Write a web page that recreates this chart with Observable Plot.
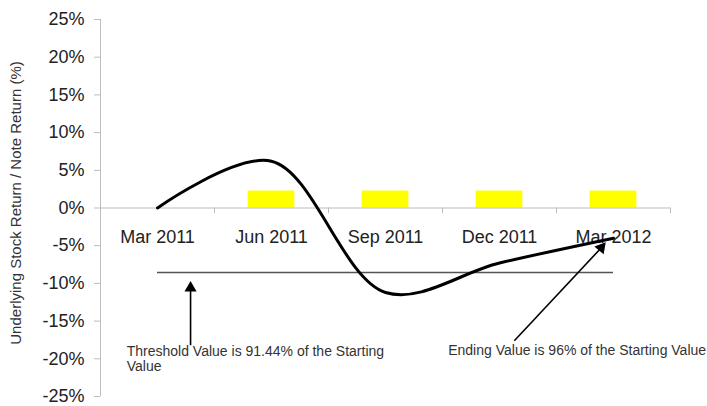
<!DOCTYPE html>
<html>
<head>
<meta charset="utf-8">
<script src="https://cdn.jsdelivr.net/npm/d3@7"></script>
<script src="https://cdn.jsdelivr.net/npm/@observablehq/plot@0.6"></script>
<style>
  html, body { margin: 0; padding: 0; background: #fff; }
  #chart { width: 707px; height: 406px; }
  svg { font-family: "Liberation Sans", Arial, sans-serif; }
</style>
</head>
<body>
<div id="chart"></div>
<script>
// ---- data ----
const categories = ["Mar 2011", "Jun 2011", "Sep 2011", "Dec 2011", "Mar 2012"];
const stockReturn = [0, 6.2, -11.2, -7.3, -4.0];          // underlying stock return (%)
const noteCoupon = [null, 2.25, 2.25, 2.25, 2.25];         // note coupon (%)
const threshold = -8.56;                                   // 91.44% of starting value
const yTicks = [25, 20, 15, 10, 5, 0, -5, -10, -15, -20, -25];
const yTitle = "Underlying Stock Return / Note Return (%)";
const thresholdNote = "Threshold Value is 91.44% of the Starting\nValue";
const endingNote = "Ending Value is 96% of the Starting Value";
// annotation anchors in data units (category index, %)
const thresholdArrow = {x1: 0.29, y1: -18.2, x2: 0.29, y2: -10.2};
const endingArrow = {x1: 3.13, y1: -17.6, x2: 3.91, y2: -5.0};
const thresholdTextPos = {x: -0.27, y: -19.2};
const endingTextPos = {x: 2.55, y: -19.2};

const table = categories.map((c, i) => ({i, cat: c, ret: stockReturn[i], coupon: noteCoupon[i]}));
const bars = table.filter(d => d.coupon != null);
const xDomain = [-0.5, categories.length - 0.5];
const boundaries = d3.range(categories.length + 1).map(k => k - 0.5);
const barHalf = 0.205;

const chart = Plot.plot({
  width: 707,
  height: 406,
  marginLeft: 100,
  marginRight: 37,
  marginTop: 19,
  marginBottom: 10,
  style: {fontFamily: "Liberation Sans, Arial, sans-serif", background: "#fff"},
  x: {type: "linear", domain: xDomain, axis: null},
  y: {domain: [-25, 25], axis: null},
  marks: [
    // y axis line and ticks
    Plot.ruleX([xDomain[0]], {stroke: "#bdbdbd", strokeWidth: 1}),
    Plot.axisY(yTicks, {anchor: "left", tickSize: 6, tickPadding: 10, tickFormat: d => d + "%",
      fontSize: 18, stroke: "#bdbdbd", fill: "#222", label: null}),
    // y title
    Plot.text([yTitle], {x: xDomain[0], y: 0, dy: -5, dx: -84, rotate: -90, text: d => d,
      fontSize: 15, fill: "#333"}),
    // coupon bars
    Plot.rectY(bars, {x1: d => d.i - barHalf, x2: d => d.i + barHalf, y1: 0, y2: "coupon", fill: "#ffff00"}),
    // zero line and category boundary ticks
    Plot.ruleY([0], {stroke: "#bdbdbd", strokeWidth: 1.2}),
    Plot.ruleX(boundaries, {x: d => d, y1: 0, y2: -0.75, stroke: "#bdbdbd"}),
    // category labels
    Plot.text(table, {x: "i", y: 0, text: "cat", dy: 29, fontSize: 18, fill: "#222"}),
    // threshold line
    Plot.ruleY([threshold], {x1: 0, x2: categories.length - 1, stroke: "#555", strokeWidth: 1.6}),
    // stock return line
    Plot.line(table, {x: "i", y: "ret", curve: "catmull-rom", stroke: "#000", strokeWidth: 3}),
    // arrows
    Plot.link([thresholdArrow], {x1: "x1", y1: "y1", x2: "x2", y2: "y2", stroke: "#000", strokeWidth: 1.6}),
    Plot.link([endingArrow], {x1: "x1", y1: "y1", x2: "x2", y2: "y2", stroke: "#000", strokeWidth: 1.6}),
    Plot.dot([thresholdArrow], {x: "x2", y: "y2", symbol: "triangle", r: 4.5, fill: "#000", stroke: null, dy: 3}),
    Plot.dot([endingArrow], {x: "x2", y: "y2", symbol: "triangle", r: 4.5, fill: "#000", stroke: null, rotate: 40, dx: -2, dy: 2}),
    // annotation text
    Plot.text([thresholdTextPos], {x: "x", y: "y", text: () => thresholdNote, textAnchor: "start", lineAnchor: "top",
      lineHeight: 1.1, fontSize: 14, fill: "#333", dy: -8}),
    Plot.text([endingTextPos], {x: "x", y: "y", text: () => endingNote, textAnchor: "start", lineAnchor: "top",
      fontSize: 14, fill: "#333", dy: -8})
  ]
});
document.getElementById("chart").append(chart);
</script>
</body>
</html>
